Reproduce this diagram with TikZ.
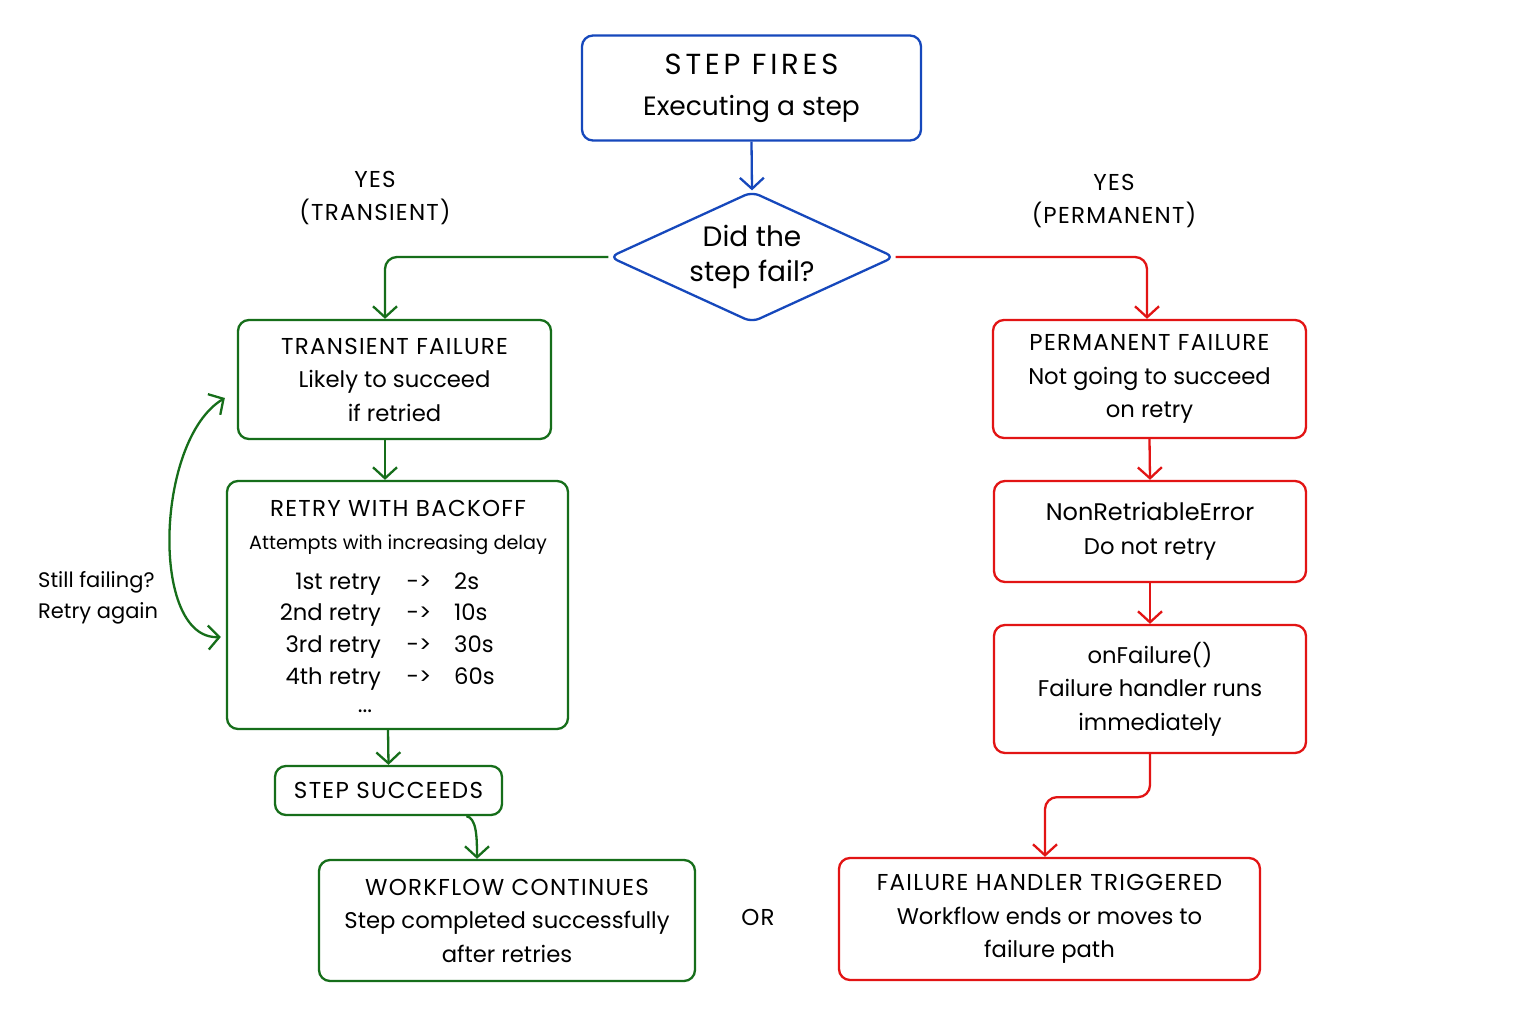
\documentclass[tikz,border=0pt]{standalone}
\usepackage{fontspec}
\setmainfont{Poppins}
\newfontfamily\capfam[LetterSpace=5.5]{Poppins}
\newfontfamily\capwfam[LetterSpace=13]{Poppins}
\usetikzlibrary{arrows.meta,shapes.geometric}
\definecolor{cblue}{RGB}{22,72,188}
\definecolor{cgreen}{RGB}{22,110,26}
\definecolor{cred}{RGB}{226,20,20}
\newcommand{\bodyf}{\fontsize{22.7}{33.5}\selectfont}
\newcommand{\capt}{\capfam\fontsize{23}{33.5}\selectfont}
\newcommand{\subf}{\fontsize{19.2}{28}\selectfont}
\newcommand{\topf}{\fontsize{26.5}{41}\selectfont}
\newcommand{\topcap}{\capwfam\fontsize{29}{41}\selectfont}
\newcommand{\diaf}{\fontsize{28}{35}\selectfont}
\newcommand{\sidef}{\fontsize{21}{31}\selectfont}
\begin{document}
\begin{tikzpicture}[x=1pt,y=-1pt,
  every node/.style={inner sep=0pt, text=black},
  box/.style={draw, line width=2.3pt, rounded corners=11pt, align=center},
  conn/.style={line width=2.3pt, rounded corners=12pt, -{Straight Barb[length=11pt,width=24pt]}},
]
\fill[white] (0,0) rectangle (1536,1024);
\useasboundingbox (0,0) rectangle (1536,1024);

% top
\node[box, draw=cblue, minimum width=339pt, minimum height=105pt, font=\topf] (fires) at (751.5,88) {{\topcap STEP FIRES}\\Executing a step};
\node[diamond, draw=cblue, line width=2.3pt, rounded corners=8pt, minimum width=285pt, minimum height=131pt, aspect=2.2, font=\diaf, align=center] (dia) at (752,257) {Did the\\step fail?};

\node[font=\capt, align=center] (yesT) at (375,198) {YES\\(TRANSIENT)};
\node[font=\capt, align=center] (yesP) at (1114,201) {YES\\(PERMANENT)};

% green side
\node[box, draw=cgreen, minimum width=313pt, minimum height=119pt, font=\bodyf] (tf) at (394.5,379.5) {{\capt TRANSIENT FAILURE}\\Likely to succeed\\if retried};
\node[box, draw=cgreen, minimum width=341pt, minimum height=248pt] (retry) at (397.5,605) {};
\node[font=\capt, anchor=base] (rT) at (398,516) {RETRY WITH BACKOFF};
\node[font=\subf, anchor=base] (rS) at (398,549) {Attempts with increasing delay};
\node[font=\bodyf, anchor=base east] (r1a) at (381,589) {1st retry};
\node[font=\bodyf, anchor=base] (r1b) at (419,589) {->};
\node[font=\bodyf, anchor=base west] (r1c) at (454,589) {2s};
\node[font=\bodyf, anchor=base east] (r2a) at (381,620) {2nd retry};
\node[font=\bodyf, anchor=base] (r2b) at (419,620) {->};
\node[font=\bodyf, anchor=base west] (r2c) at (454,620) {10s};
\node[font=\bodyf, anchor=base east] (r3a) at (381,652) {3rd retry};
\node[font=\bodyf, anchor=base] (r3b) at (419,652) {->};
\node[font=\bodyf, anchor=base west] (r3c) at (454,652) {30s};
\node[font=\bodyf, anchor=base east] (r4a) at (381,684) {4th retry};
\node[font=\bodyf, anchor=base] (r4b) at (419,684) {->};
\node[font=\bodyf, anchor=base west] (r4c) at (454,684) {60s};
\node[font=\bodyf, anchor=base] (rd) at (365,712) {...};

\node[box, draw=cgreen, minimum width=227pt, minimum height=49pt, font=\capt] (ss) at (388.5,790.5) {STEP SUCCEEDS};
\node[box, draw=cgreen, minimum width=376pt, minimum height=121pt, font=\bodyf] (wc) at (507,920.5) {{\capt WORKFLOW CONTINUES}\\Step completed successfully\\after retries};
\node[font=\capt] (or) at (758,917) {OR};

\node[font=\sidef, align=left, anchor=west] (still) at (38,598) {Still failing?\\Retry again};

% red side
\node[box, draw=cred, minimum width=313pt, minimum height=118pt, font=\bodyf] (pf) at (1149.5,379) {{\capt PERMANENT FAILURE}\\Not going to succeed\\on retry};
\node[box, draw=cred, minimum width=312pt, minimum height=101pt, font=\bodyf] (nre) at (1150,531.5) {{\fontsize{24}{33.5}\selectfont NonRetriableError}\\Do not retry};
\node[box, draw=cred, minimum width=312pt, minimum height=128pt, font=\bodyf] (onf) at (1150,689) {onFailure()\\Failure handler runs\\immediately};
\node[box, draw=cred, minimum width=421pt, minimum height=122pt, font=\bodyf] (fht) at (1049.5,919) {{\capt FAILURE HANDLER TRIGGERED}\\Workflow ends or moves to\\failure path};

% connectors
\draw[conn, cblue] (fires.south) -- (dia.north);
\draw[conn, cgreen] (dia.west) -| ([xshift=-9.5pt]tf.north);
\draw[conn, cred] (dia.east) -| ([xshift=-2.5pt]pf.north);
\draw[conn, cgreen] ([xshift=-9.5pt]tf.south) -- ([xshift=-9.5pt]tf.south |- retry.north);
\draw[conn, cgreen] ([xshift=-9.5pt]retry.south) -- (ss.north);
\draw[conn, cgreen] ([xshift=78pt]ss.south) .. controls +(10,2) and +(0,-22) .. ([xshift=-30pt]wc.north);
\draw[conn, cred] (pf.south) -- (nre.north);
\draw[conn, cred] (nre.south) -- (onf.north);
\draw[conn, cred] (onf.south) -- ++(0,43) -| ([xshift=-4.5pt]fht.north);
\draw[line width=2.3pt, cgreen, {Straight Barb[length=11pt,width=24pt]}-{Straight Barb[length=11pt,width=24pt]}] ([xshift=-5pt,yshift=-32pt]retry.west) .. controls (150,640) and (155,440) .. ([xshift=-12pt,yshift=-18.5pt]tf.west);
\end{tikzpicture}
\end{document}
